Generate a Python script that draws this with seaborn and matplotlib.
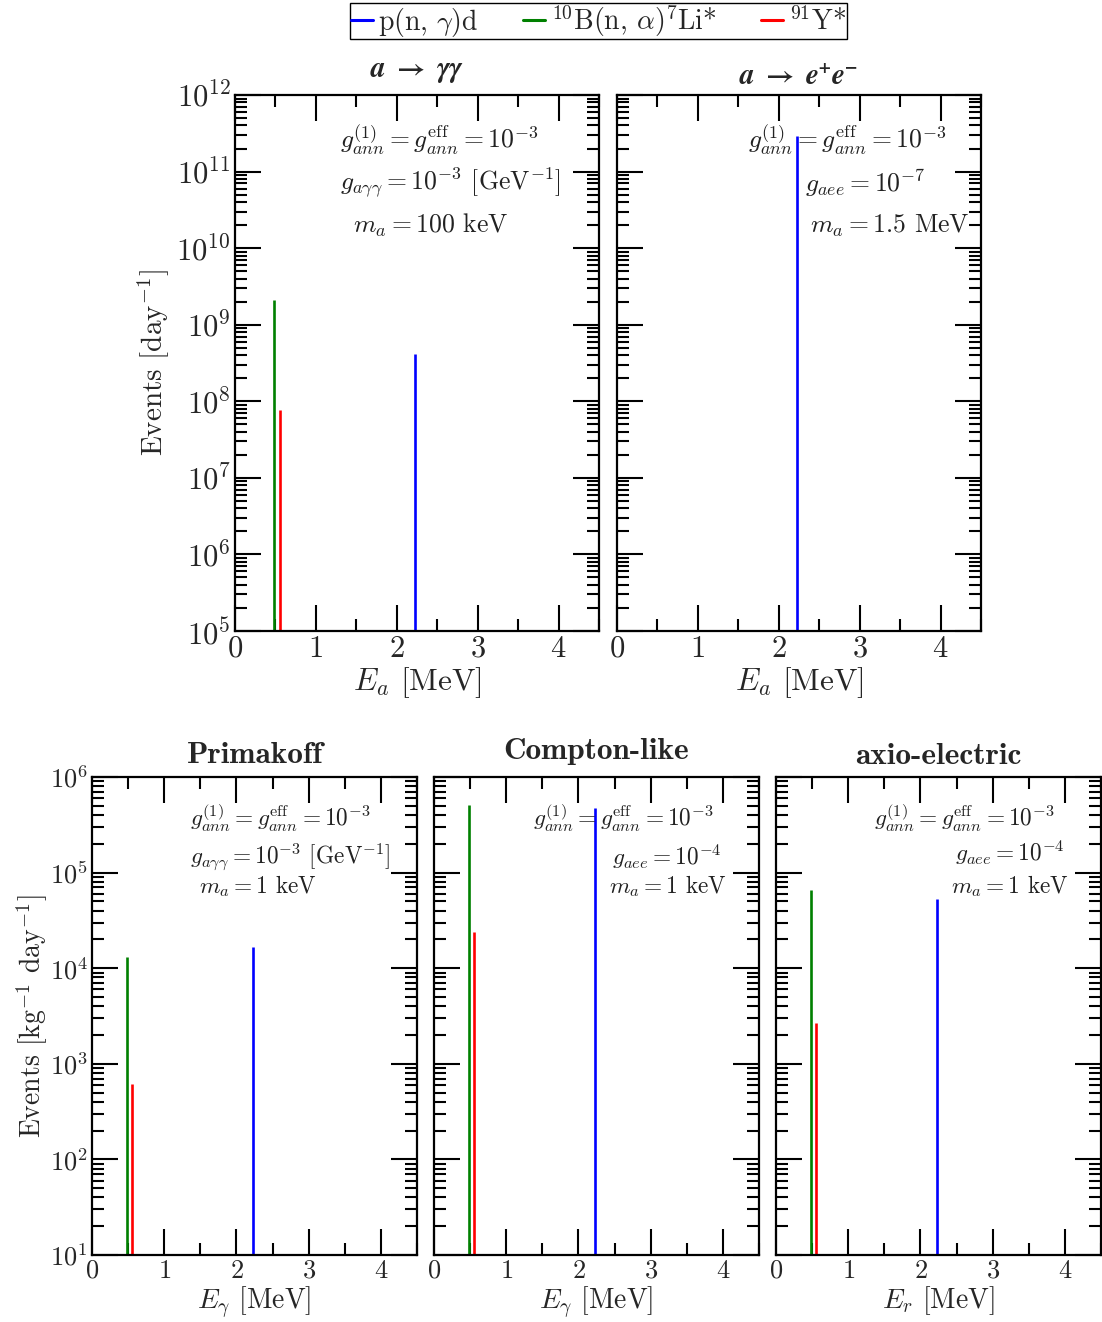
import numpy as np
import pandas as pd
import matplotlib
matplotlib.use("Agg")
import matplotlib.pyplot as plt
from matplotlib.lines import Line2D
from matplotlib.ticker import MultipleLocator, LogLocator, NullFormatter
import seaborn as sns

# line sources and their energies (MeV)
sources = [r"p(n, $\gamma$)d", r"$^{10}$B(n, $\alpha$)$^{7}$Li*", r"$^{91}$Y*"]
colors = ["#0000ff", "#008000", "#ff0000"]
energies = [2.224, 0.478, 0.555]

# event rates
gg_rates = [4.1e8, 2.1e9, 7.7e7]        # a -> gamma gamma, day^-1
ee_rates = [2.9e11, np.nan, np.nan]     # a -> e+ e-, day^-1
prim_rates = [1.67e4, 1.31e4, 6.15e2]   # Primakoff, kg^-1 day^-1
compton_rates = [4.7e5, 5.1e5, 2.4e4]   # Compton-like
axio_rates = [5.3e4, 6.6e4, 2.7e3]      # axio-electric

sns.set_theme(style="ticks")
plt.rcParams["font.family"] = "serif"
plt.rcParams["font.serif"] = ["cmr10", "DejaVu Serif"]
plt.rcParams["mathtext.fontset"] = "cm"
plt.rcParams["axes.unicode_minus"] = False
plt.rcParams["axes.formatter.use_mathtext"] = True

W, H = 1102, 1322
fig = plt.figure(figsize=(W / 100, H / 100), dpi=100)


def make_axes(x0, x1, y0, y1):
    # pixel box -> figure fraction
    return fig.add_axes([x0 / W, (H - y1) / H, (x1 - x0) / W, (y1 - y0) / H])


def style_axes(ax, ylim, tick_size, show_ylabels):
    ax.set_xlim(0, 4.5)
    ax.set_yscale("log")
    ax.set_ylim(*ylim)
    ax.xaxis.set_major_locator(MultipleLocator(1))
    ax.xaxis.set_minor_locator(MultipleLocator(0.5))
    ax.yaxis.set_major_locator(LogLocator(base=10, numticks=20))
    ax.yaxis.set_minor_locator(LogLocator(base=10, subs=np.arange(2, 10), numticks=20))
    ax.yaxis.set_minor_formatter(NullFormatter())
    ax.tick_params(which="both", direction="in", top=True, right=True,
                   width=1.5, color="black", labelsize=tick_size, pad=3)
    ax.tick_params(which="major", length=19)
    ax.tick_params(which="minor", length=8.5)
    if not show_ylabels:
        ax.tick_params(axis="y", labelleft=False)
    for sp in ax.spines.values():
        sp.set_linewidth(1.6)
        sp.set_color("black")
    ax.grid(False)


def draw_lines(ax, rates, floor):
    df = pd.DataFrame({"E": energies, "rate": rates, "color": colors}).dropna()
    ax.vlines(df["E"], floor, df["rate"], colors=df["color"], linewidth=1.9)


def add_text(ax, items, size):
    for x, y, s in items:
        ax.text(x, y, s, transform=ax.transAxes, fontsize=size,
                ha="left", va="center", color="#222222")


g1 = r"$g^{(1)}_{ann} = g^{\mathrm{eff}}_{ann} = 10^{-3}$"

# ---- top row ----
ax1 = make_axes(235, 599, 95, 631)
ax2 = make_axes(617, 981, 95, 631)
for ax, rates, show in [(ax1, gg_rates, True), (ax2, ee_rates, False)]:
    style_axes(ax, (1e5, 1e12), 22, show)
    draw_lines(ax, rates, 1e5)
    ax.set_xlabel(r"$E_a$ [MeV]", fontsize=22.5, labelpad=2)

ax1.set_ylabel(r"Events [day$^{-1}$]", fontsize=21, labelpad=4)
ax1.text(0.5, 1.043, r"$\mathbfit{a}\ \mathbf{\rightarrow}\ \mathbfit{\gamma\gamma}$",
         transform=ax1.transAxes, fontsize=21, ha="center", va="center",
         math_fontfamily="stix")
ax2.text(0.5, 1.033, r"$\mathbfit{a}\ \mathbf{\rightarrow}\ \mathbfit{e^{+}e^{-}}$",
         transform=ax2.transAxes, fontsize=21, ha="center", va="center",
         math_fontfamily="stix")

add_text(ax1, [(0.288, 0.916, g1),
               (0.288, 0.836, r"$g_{a\gamma\gamma} = 10^{-3}$ [GeV$^{-1}$]"),
               (0.324, 0.756, r"$m_a = 100$ keV")], 18.5)
add_text(ax2, [(0.36, 0.916, g1),
               (0.516, 0.836, r"$g_{aee} = 10^{-7}$"),
               (0.53, 0.756, r"$m_a = 1.5$ MeV")], 18.5)

# ---- bottom row ----
bottom = [
    (92, prim_rates, "Primakoff", r"$E_\gamma$ [MeV]", 0.046,
     [(0.302, 0.914, g1),
      (0.302, 0.833, r"$g_{a\gamma\gamma} = 10^{-3}$ [GeV$^{-1}$]"),
      (0.329, 0.772, r"$m_a = 1$ keV")]),
    (434, compton_rates, "Compton-like", r"$E_\gamma$ [MeV]", 0.054,
     [(0.305, 0.914, g1),
      (0.548, 0.833, r"$g_{aee} = 10^{-4}$"),
      (0.538, 0.772, r"$m_a = 1$ keV")]),
    (776, axio_rates, "axio-electric", r"$E_r$ [MeV]", 0.042,
     [(0.302, 0.914, g1),
      (0.551, 0.841, r"$g_{aee} = 10^{-4}$"),
      (0.538, 0.772, r"$m_a = 1$ keV")]),
]
for i, (x0, rates, title, xlabel, ty, texts) in enumerate(bottom):
    ax = make_axes(x0, x0 + 325, 777, 1255)
    style_axes(ax, (1e1, 1e6), 19, i == 0)
    draw_lines(ax, rates, 1e1)
    ax.set_xlabel(xlabel, fontsize=20, labelpad=1)
    ax.text(0.5, 1 + ty, title, transform=ax.transAxes, fontsize=22.5,
            fontfamily="cmb10", ha="center", va="center")
    add_text(ax, texts, 16.8)
    if i == 0:
        ax.set_ylabel(r"Events [kg$^{-1}$ day$^{-1}$]", fontsize=20, labelpad=0)

# ---- legend ----
handles = [Line2D([], [], color=c, linewidth=2.2) for c in colors]
fig.legend(handles, sources, loc="upper center", bbox_to_anchor=(0.543, 0.998),
           ncol=3, fontsize=20, frameon=True, fancybox=False, edgecolor="black",
           handlelength=0.8, handletextpad=0.2, columnspacing=1.6, borderpad=0.02,
           borderaxespad=0, framealpha=1)
fig.legends[0].get_frame().set_linewidth(1.0)

fig.savefig("out.png", dpi=100)
